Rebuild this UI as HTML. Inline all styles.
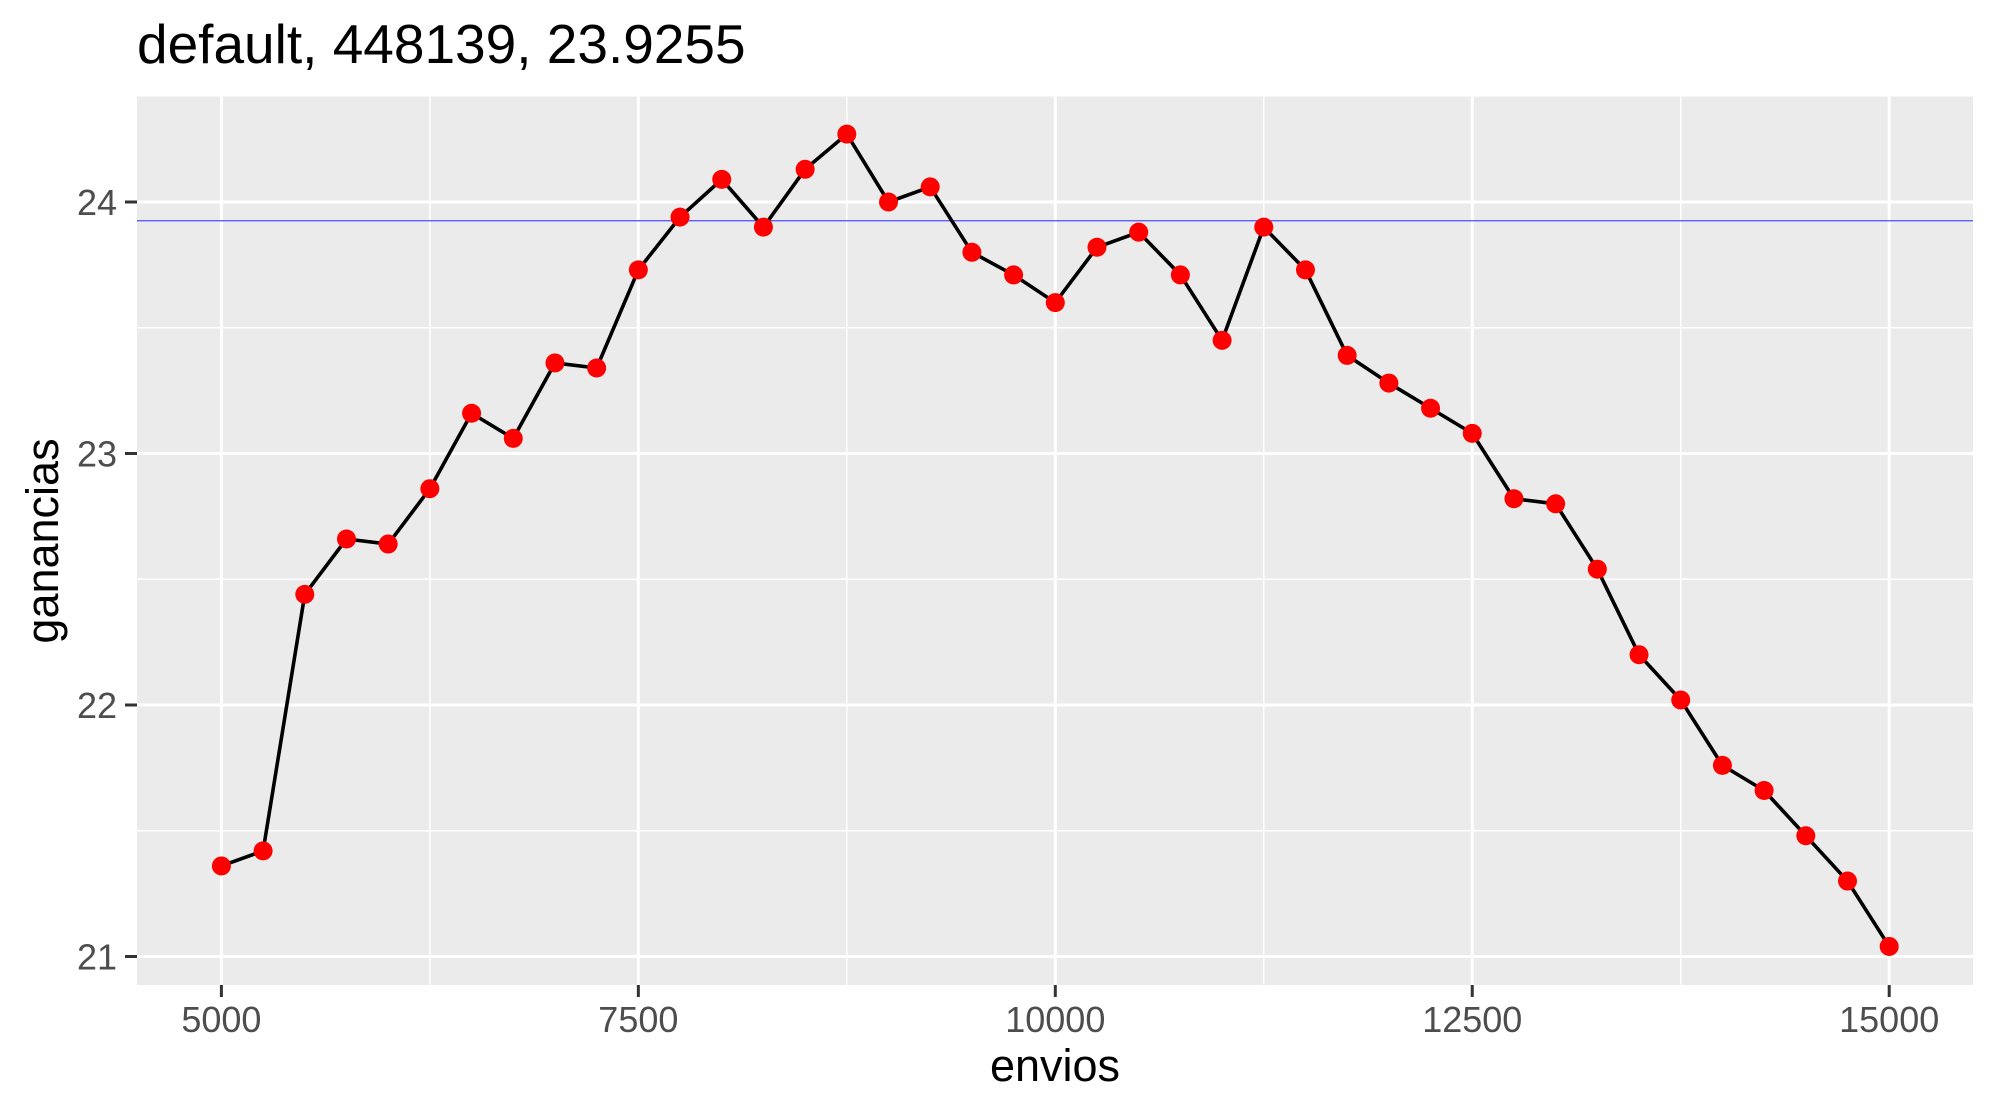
<!DOCTYPE html>
<html><head><meta charset="utf-8"><style>
body{margin:0;background:#fff;}
svg{display:block;font-family:"Liberation Sans",Arial,sans-serif;}
</style></head><body>
<svg id="chart" width="1996" height="1115">
<text x="137" y="63" font-size="55" fill="#000">default, 448139, 23.9255</text>
<rect x="137" y="96.5" width="1836" height="888.5" fill="#ebebeb"/>
<g id="grid"></g>
<g id="axes"></g>
<g id="series"></g>
<text x="1055" y="1081" font-size="45" text-anchor="middle" fill="#000">envios</text>
<text transform="translate(58,541) rotate(-90)" font-size="45" text-anchor="middle" fill="#000">ganancias</text>
</svg>
<script>
const envios=[5000,5250,5500,5750,6000,6250,6500,6750,7000,7250,7500,7750,8000,8250,8500,8750,9000,9250,9500,9750,10000,10250,10500,10750,11000,11250,11500,11750,12000,12250,12500,12750,13000,13250,13500,13750,14000,14250,14500,14750,15000];
const ganancias=[21.36,21.42,22.44,22.66,22.64,22.86,23.16,23.06,23.36,23.34,23.73,23.94,24.09,23.90,24.13,24.27,24.00,24.06,23.80,23.71,23.60,23.82,23.88,23.71,23.45,23.90,23.73,23.39,23.28,23.18,23.08,22.82,22.80,22.54,22.20,22.02,21.76,21.66,21.48,21.30,21.04];
const xTicks=[5000,7500,10000,12500,15000];
const xMinor=[6250,8750,11250,13750];
const yTicks=[21,22,23,24];
const yMinor=[21.5,22.5,23.5];
const refLine=23.9255;
const NS="http://www.w3.org/2000/svg";
const X=v=>221.4+(v-5000)*0.16678;
const Y=v=>202-(v-24)*251.5;
const PL=137,PR=1973,PT=96.5,PB=985;
function mk(tag,attrs,parent){const e=document.createElementNS(NS,tag);for(const k in attrs)e.setAttribute(k,attrs[k]);parent.appendChild(e);return e;}
const grid=document.getElementById('grid'),axes=document.getElementById('axes'),series=document.getElementById('series');
yMinor.forEach(v=>{const l=mk('line',{x1:PL,x2:PR,y1:Y(v),y2:Y(v),stroke:'#fff','stroke-width':1.5},grid);

});
xMinor.forEach(v=>{const l=mk('line',{x1:X(v),x2:X(v),y1:PT,y2:PB,stroke:'#fff','stroke-width':1.5},grid);

});
yTicks.forEach(v=>{const l=mk('line',{x1:PL,x2:PR,y1:Y(v),y2:Y(v),stroke:'#fff','stroke-width':3},grid);


const t=mk('line',{x1:125,x2:PL,y1:Y(v),y2:Y(v),stroke:'#333','stroke-width':3},axes);


const tx=mk('text',{x:117,y:Y(v)+13,'font-size':36,'text-anchor':'end',fill:'#4d4d4d'},axes);tx.textContent=v;

});
xTicks.forEach(v=>{const l=mk('line',{x1:X(v),x2:X(v),y1:PT,y2:PB,stroke:'#fff','stroke-width':3},grid);


const t=mk('line',{x1:X(v),x2:X(v),y1:PB,y2:PB+12,stroke:'#333','stroke-width':3},axes);


const tx=mk('text',{x:X(v),y:1032,'font-size':36,'text-anchor':'middle',fill:'#4d4d4d'},axes);tx.textContent=v;

});
const rl=mk('line',{x1:PL,x2:PR,y1:Y(refLine),y2:Y(refLine),stroke:'#4d4dff','stroke-width':1.3},series);


const pts=envios.map((e,i)=>X(e)+','+Y(ganancias[i])).join(' ');
const pl=mk('polyline',{points:pts,fill:'none',stroke:'#000','stroke-width':3.6,'stroke-linejoin':'round'},series);


envios.forEach((e,i)=>{const c=mk('circle',{cx:X(e),cy:Y(ganancias[i]),r:9.5,fill:'#ff0000'},series);

});
</script>
</body></html>
